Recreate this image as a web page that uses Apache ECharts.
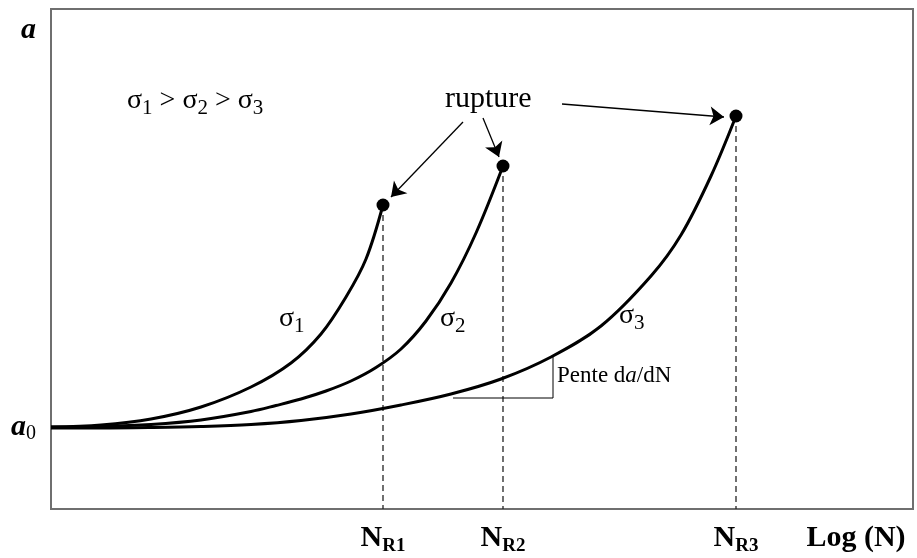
<!DOCTYPE html>
<html>
<head>
<meta charset="utf-8">
<script src="https://cdn.jsdelivr.net/npm/echarts@6/dist/echarts.min.js"></script>
<style>
html,body{margin:0;padding:0;background:#fff;}
#c{width:917px;height:558px;}
</style>
</head>
<body>
<div id="c"></div>
<script>
// Log(N) (x) vs crack length a (y), arbitrary units
const sigma1 = [[0,82],[50,84],[100,90],[150,102],[200,122],[240,146],[270,175],[295,212],[315,250],[332,304]];
const sigma2 = [[0,82],[50,82.5],[100,84.5],[150,89],[200,97.5],[225,103.5],[250,110],[275,118],[300,128],[325,141.5],[350,160],[375,188],[400,226],[425,276],[452,343]];
const sigma3 = [[0,81],[50,81],[100,81.5],[150,82.5],[200,84.5],[250,88.5],[300,95],[350,104],[400,115],[450,130],[500,152],[550,183],[600,233],[630,274],[660,333],[685,393]];
const slopeTriangle = [[402,111],[502,111],[502,153]];
const ruptureArrows = [[[412,387],[340,312]],[[432,391],[448,352]],[[511,405],[673,392]]];
const xTickValues = [332,452,685,805];
const xTickLabels = ['{g|N}{s|R1}','{g|N}{s|R2}','{g|N}{s|R3}','{g|Log (N)}'];
const yTickValues = [82,479];
const yTickLabels = ['{a|a}{s|0}','{a|a}'];

const serif = 'Liberation Serif';
const ruptures = [sigma1, sigma2, sigma3].map(s => s[s.length-1]);

const chart = echarts.init(document.getElementById('c'), null, {renderer:'canvas'});

const curve = (name, data) => ({
  name, type:'line', data, smooth:0.35, symbol:'none',
  lineStyle:{color:'#000', width:3}, z:3, silent:true
});
const dashed = p => ({
  type:'line', data:[[p[0],p[1]],[p[0],0]], symbol:'none', silent:true,
  lineStyle:{color:'#222', width:1.3, type:[6,4]}, z:2
});
const subRich = (size, subSize, bold) => ({
  g:{fontFamily:serif, fontSize:size, fontWeight:bold?'bold':'normal', fill:'#000', color:'#000', lineHeight:30},
  s:{fontFamily:serif, fontSize:subSize, fontWeight:bold?'bold':'normal', fill:'#000', color:'#000', lineHeight:14, padding:[16,0,0,0]}
});

const option = {
  animation:false,
  backgroundColor:'#fff',
  grid:{left:51, top:9, right:4, bottom:49, show:true, borderColor:'#6f6f6f', borderWidth:2, backgroundColor:'transparent'},
  xAxis:{
    type:'value', min:0, max:862,
    axisLine:{show:false}, axisTick:{show:false}, splitLine:{show:false},
    axisLabel:{
      customValues:xTickValues, margin:14,
      formatter:v => xTickLabels[xTickValues.indexOf(v)] || '',
      rich:subRich(30, 19, true)
    }
  },
  yAxis:{
    type:'value', min:0, max:500,
    axisLine:{show:false}, axisTick:{show:false}, splitLine:{show:false},
    axisLabel:{
      customValues:yTickValues, margin:15,
      formatter:v => yTickLabels[yTickValues.indexOf(v)] || '',
      rich:{
        a:{fontFamily:serif, fontWeight:'bold', fontStyle:'italic', fontSize:30, color:'#000', lineHeight:30},
        s:{fontFamily:serif, fontSize:20, color:'#000', lineHeight:14, padding:[14,0,0,0]}
      }
    }
  },
  series:[
    curve('σ1', sigma1), curve('σ2', sigma2), curve('σ3', sigma3),
    dashed(ruptures[0]), dashed(ruptures[1]), dashed(ruptures[2]),
    {type:'line', data:slopeTriangle, symbol:'none', silent:true, lineStyle:{color:'#000', width:1}, z:2},
    {type:'scatter', data:ruptures, symbol:'circle', symbolSize:13, itemStyle:{color:'#000', opacity:1}, z:5, silent:true},
    {type:'lines', coordinateSystem:'cartesian2d', silent:true, z:4,
      symbol:['none','arrow'], symbolSize:14,
      lineStyle:{color:'#000', width:1.3, opacity:1},
      data:ruptureArrows.map(a => ({coords:a}))
    }
  ],
  graphic:[
    {type:'text', left:127, top:82, silent:true, style:{
      text:'{g|σ}{s|1}{g| > σ}{s|2}{g| > σ}{s|3}', rich:subRich(28, 21, false)}},
    {type:'text', left:445, top:84, silent:true, style:{text:'rupture', fontFamily:serif, fontSize:30, fill:'#000'}},
    {type:'text', left:279, top:300, silent:true, style:{text:'{g|σ}{s|1}', rich:subRich(28, 21, false)}},
    {type:'text', left:440, top:300, silent:true, style:{text:'{g|σ}{s|2}', rich:subRich(28, 21, false)}},
    {type:'text', left:619, top:297, silent:true, style:{text:'{g|σ}{s|3}', rich:subRich(28, 21, false)}},
    {type:'text', left:557, top:364, silent:true, style:{
      text:'{r|Pente d}{i|a}{r|/dN}', rich:{
        r:{fontFamily:serif, fontSize:23, fill:'#000'},
        i:{fontFamily:serif, fontSize:23, fontStyle:'italic', fill:'#000'}
      }}}
  ]
};
chart.setOption(option);
</script>
</body>
</html>
